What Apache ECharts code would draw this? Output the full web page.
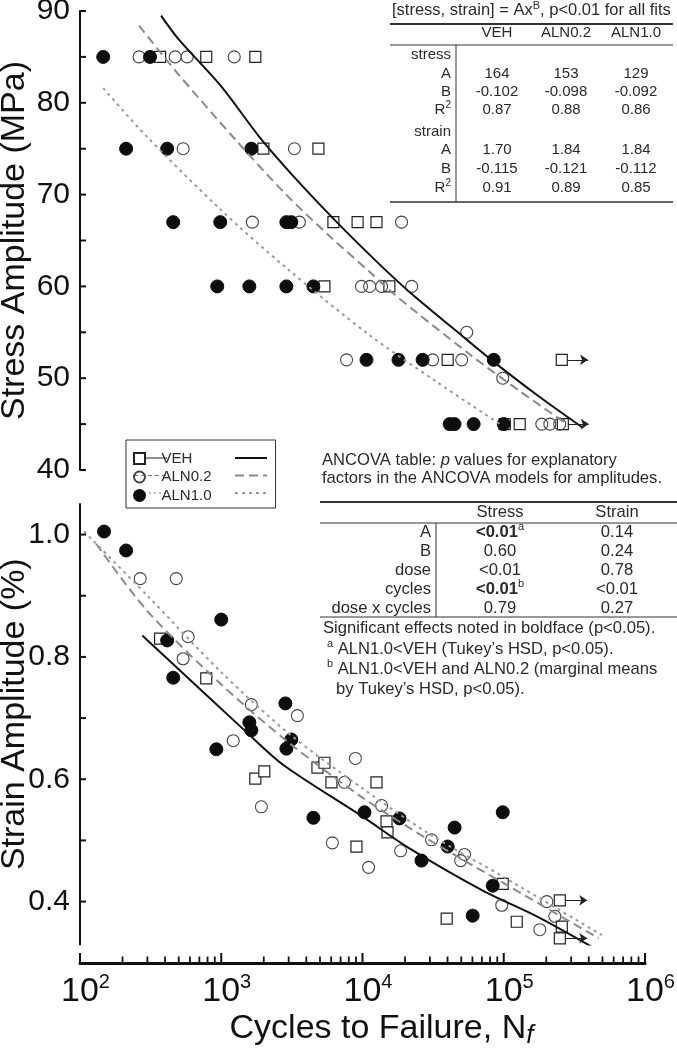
<!DOCTYPE html>
<html><head><meta charset="utf-8">
<script src="https://cdn.jsdelivr.net/npm/echarts@6/dist/echarts.min.js"></script>
<style>html,body{margin:0;padding:0;background:#fff;} #c{width:677px;height:1050px;}</style>
</head><body><div id="c"></div>
<script>
// ---------------- data ----------------
const groups = ['VEH', 'ALN0.2', 'ALN1.0'];

// Stress panel: [cycles to failure, stress amplitude MPa]
const stressVEH = [[369,85],[783,85],[1742,85],[1987,75],[4875,75],[6223,67],[9230,67],[12560,67],[5375,60],[15500,60],[40070,52],[257500,52],[101600,45],[129700,45],[262000,45]];
const stressALN02 = [[262,85],[472,85],[574,85],[1236,85],[537,75],[3296,75],[1660,67],[3573,67],[18900,67],[9840,60],[11240,60],[13650,60],[22300,60],[54700,55],[7710,52],[31370,52],[50370,52],[98400,50],[186000,45],[212000,45],[249000,45]];
const stressALN10 = [[146,85],[313,85],[212,75],[414,75],[1633,75],[457,67],[984,67],[2891,67],[3133,67],[937,60],[1581,60],[2891,60],[4490,60],[10670,52],[17980,52],[26640,52],[84930,52],[41400,45],[44800,45],[61200,45],[100000,45]];
// run-outs (arrow start, arrow end, level)
const stressRunouts = [[282000,395000,52],[287000,400000,45]];

// Stress fit curves
const fitStressVEH = [[375,89.5],[500,86.9],[1000,81.8],[1860,76.3],[3570,71.3],[6870,66.7],[13200,62.4],[21500,59.4],[54700,54.2],[86300,51.7],[171000,48.2],[363000,44.6]];
const fitStressALN02 = [[262,88.4],[479,83.4],[1275,75.9],[2880,70.0],[6120,65.2],[11200,61.6],[16300,59.3],[57400,52.6],[129800,48.6],[280000,45.0]];
const fitStressALN10 = [[146,81.6],[294,76.4],[968,68.5],[2891,62.0],[11200,54.7],[33500,49.6],[98400,44.8]];

// Strain panel: [cycles to failure, strain amplitude %]
const strainVEH = [[369,0.830],[783,0.765],[1742,0.601],[2018,0.613],[4798,0.619],[5375,0.627],[6025,0.595],[12560,0.595],[14790,0.531],[15030,0.513],[9060,0.490],[39450,0.372],[98400,0.429],[123600,0.367],[249500,0.402],[257600,0.359],[249500,0.340]];
const strainALN02 = [[267,0.928],[480,0.928],[583,0.833],[537,0.797],[1633,0.722],[3460,0.704],[1216,0.663],[1923,0.555],[8910,0.634],[7450,0.595],[6120,0.496],[13650,0.557],[11050,0.456],[30830,0.501],[18620,0.483],[52800,0.477],[49550,0.467],[96800,0.394],[201800,0.400],[180000,0.354],[230000,0.376]];
const strainALN10 = [[148,1.005],[212,0.974],[414,0.827],[457,0.766],[1000,0.861],[1581,0.693],[1634,0.680],[923,0.649],[2845,0.724],[3133,0.665],[2891,0.650],[4490,0.537],[10330,0.546],[18280,0.536],[26180,0.467],[40090,0.490],[44890,0.521],[98400,0.546],[83600,0.426],[60260,0.377]];
const strainRunouts = [[272000,390000,0.402],[272000,390000,0.340]];

const fitStrainVEH = [[276,0.835],[1541,0.675],[2800,0.622],[9840,0.540],[21500,0.487],[71000,0.418],[174000,0.375],[428000,0.325]];
const fitStrainALN02 = [[130,0.985],[300,0.875],[1000,0.755],[3000,0.660],[10000,0.570],[30000,0.500],[100000,0.430],[470000,0.340]];
const fitStrainALN10 = [[107,1.005],[300,0.900],[1000,0.775],[3000,0.675],[10000,0.585],[30000,0.510],[100000,0.440],[496000,0.345]];

// axis ticks / labels
const stressTickValues = [40,45,50,55,60,65,70,75,80,85,90];
const stressLabelValues = [40,50,60,70,80,90];
const strainTickValues = [0.4,0.5,0.6,0.7,0.8,0.9,1.0];
const strainLabelValues = [0.4,0.6,0.8,1.0];
const xMajorTicks = [100,1000,10000,100000,1000000];
const xTickExponents = ['2','3','4','5','6'];
const xMinorTicks = [200,300,400,500,600,700,800,900,2000,3000,4000,5000,6000,7000,8000,9000,20000,30000,40000,50000,60000,70000,80000,90000,200000,300000,400000,500000,600000,700000,800000,900000];

// tables
const fitTableTitle = '[stress, strain] = Ax{s|B}, p<0.01 for all fits';
const fitRowLabels = ['stress','A','B','R{s|2}','strain','A','B','R{s|2}'];
const fitRows = [
  null,
  ['164','153','129'],
  ['-0.102','-0.098','-0.092'],
  ['0.87','0.88','0.86'],
  null,
  ['1.70','1.84','1.84'],
  ['-0.115','-0.121','-0.112'],
  ['0.91','0.89','0.85']
];
const ancovaTitle = ['ANCOVA table: {i|p} values for explanatory', 'factors in the ANCOVA models for amplitudes.'];
const ancovaHeader = ['Stress','Strain'];
const ancovaFactors = ['A','B','dose','cycles','dose x cycles'];
const ancovaStress = ['{b|<0.01}{s|a}','0.60','<0.01','{b|<0.01}{s|b}','0.79'];
const ancovaStrain = ['0.14','0.24','0.78','<0.01','0.27'];
const ancovaNotes = ['Significant effects noted in boldface (p<0.05).', '{s|a} ALN1.0<VEH (Tukey\u2019s HSD, p<0.05).', '{s|b} ALN1.0<VEH and ALN0.2 (marginal means', 'by Tukey\u2019s HSD, p<0.05).'];

// ---------------- chart ----------------
const FONT = "'Liberation Sans', Arial, Helvetica, sans-serif";
const INK = '#111';
const TXT = '#2a2a2a';

function txt(x, y, text, o) {
  const fs = (o && o.fontSize) || 15;
  const lh = (o && o.lineHeight) || fs + 4;
  return { type: 'text', x: x, y: y, silent: true, z: 10,
    style: Object.assign({ text: text, fontFamily: FONT, fontSize: fs, fill: TXT, align: 'left', verticalAlign: 'middle', lineHeight: lh,
      rich: { s: { fontSize: Math.round(fs * 0.66), verticalAlign: 'top', lineHeight: Math.round(fs * 0.66), fill: TXT, fontFamily: FONT },
              b: { fontSize: fs, fontWeight: 'bold', fill: TXT, fontFamily: FONT, lineHeight: lh },
              i: { fontSize: fs, fontStyle: 'italic', fill: TXT, fontFamily: FONT, lineHeight: lh } } }, o || {}) };
}
function ln(x1, y1, x2, y2, w, o) {
  return { type: 'line', silent: true, z: 10, shape: { x1: x1, y1: y1, x2: x2, y2: y2 },
    style: Object.assign({ stroke: '#333', lineWidth: w }, o || {}) };
}

const graphics = [];
// ---- fit table ----
graphics.push(txt(392, 10, fitTableTitle, { fontSize: 16.5, lineHeight: 20 }));
graphics.push(ln(390, 24, 673, 24, 2));
const colX = [497, 566, 636];
groups.forEach((g, i) => graphics.push(txt(colX[i], 33, g, { align: 'center' })));
graphics.push(ln(390, 45, 673, 45, 1));
graphics.push(ln(456, 45, 456, 202, 1));
const fitRowY = [55, 74, 92, 110, 132, 150, 169, 188];
fitRowLabels.forEach((l, r) => {
  graphics.push(txt(451, fitRowY[r], l, { align: 'right' }));
  if (fitRows[r]) fitRows[r].forEach((v, i) => graphics.push(txt(colX[i], fitRowY[r], v, { align: 'center' })));
});
graphics.push(ln(390, 202, 673, 202, 1.5));

// ---- ANCOVA table ----
const AF = 16.6;
graphics.push(txt(322, 460, ancovaTitle[0], { fontSize: AF }));
graphics.push(txt(322, 478, ancovaTitle[1], { fontSize: AF }));
graphics.push(ln(320, 502, 677, 502, 2));
const acX = [500, 617];
ancovaHeader.forEach((h, i) => graphics.push(txt(acX[i], 512, h, { align: 'center', fontSize: AF })));
graphics.push(ln(320, 523, 677, 523, 1));
graphics.push(ln(436, 523, 436, 617, 1));
const acY = [532, 551, 570, 589, 608];
ancovaFactors.forEach((f, r) => {
  graphics.push(txt(431, acY[r], f, { align: 'right', fontSize: AF }));
  graphics.push(txt(acX[0], acY[r], ancovaStress[r], { align: 'center', fontSize: AF }));
  graphics.push(txt(acX[1], acY[r], ancovaStrain[r], { align: 'center', fontSize: AF }));
});
graphics.push(ln(320, 617, 677, 617, 1));
graphics.push(txt(323, 628, ancovaNotes[0], { fontSize: AF }));
graphics.push(txt(327, 649, ancovaNotes[1], { fontSize: AF }));
graphics.push(txt(327, 669, ancovaNotes[2], { fontSize: AF }));
graphics.push(txt(336, 689, ancovaNotes[3], { fontSize: AF }));

// ---- legend line samples ----
const legRowY = [458, 475.5, 493];
const legLine = [
  { stroke: INK, lineWidth: 2 },
  { stroke: '#888', lineWidth: 2, lineDash: [9, 5] },
  { stroke: '#999', lineWidth: 2, lineDash: [3, 4] }
];
const legThrough = [
  { stroke: '#222', lineWidth: 1.2 },
  { stroke: '#777', lineWidth: 1.2, lineDash: [4, 3] },
  { stroke: '#777', lineWidth: 1.2, lineDash: [2, 3] }
];
legRowY.forEach((y, i) => {
  const a = ln(134, y, 167, y, 1, legThrough[i]); a.z = 1; graphics.push(a);
  graphics.push(ln(235, y, 267, y, 2, legLine[i]));
});

const sqStyle = { color: '#fff', borderColor: '#222', borderWidth: 1.2, opacity: 1 };
const ocStyle = { color: 'rgba(255,255,255,0)', borderColor: '#444', borderWidth: 1.1, opacity: 1 };
const fcStyle = { color: '#0d0d0d', borderColor: '#0d0d0d', borderWidth: 1, opacity: 1 };

function scatter(name, data, xi, yi, sym, size, style, extra) {
  return Object.assign({ name: name, type: 'scatter', xAxisIndex: xi, yAxisIndex: yi, data: data,
    symbol: sym, symbolSize: size, itemStyle: style, z: 2, silent: true, animation: false }, extra || {});
}
function fit(name, data, xi, yi, style) {
  return { name: name, type: 'line', xAxisIndex: xi, yAxisIndex: yi, data: data, smooth: 0.3,
    showSymbol: false, symbol: 'none', lineStyle: style, z: 3, silent: true, animation: false };
}
function arrows(list) {
  return { silent: true, symbol: ['none', 'arrow'], symbolSize: 8, animation: false,
    lineStyle: { color: '#222', width: 1, type: 'solid', opacity: 1 }, itemStyle: { color: '#222' }, label: { show: false },
    emphasis: { disabled: true },
    data: list.map(r => [{ coord: [r[0], r[2]] }, { coord: [r[1], r[2]] }]) };
}
// axis tick marks, placed through the axes' own scales as thin rect symbols
function ticks(name, xi, yi, data, w, h, ox, oy) {
  return { name: name, type: 'scatter', xAxisIndex: xi, yAxisIndex: yi, data: data, silent: true, clip: false, z: 6,
    animation: false, symbol: 'rect', symbolSize: [w, h], symbolOffset: [ox, oy],
    itemStyle: { color: INK, opacity: 1, borderWidth: 0 }, emphasis: { disabled: true } };
}
const fitVEHStyle = { color: INK, width: 2, type: 'solid' };
const fitA02Style = { color: '#8a8a8a', width: 2, type: [9, 5] };
const fitA10Style = { color: '#9a9a9a', width: 2, type: [3, 4] };

const xLabelRich = { b: { fontSize: 34, fontFamily: FONT, color: INK, lineHeight: 40, padding: [0, 0, 0, 11] },
                     s: { fontSize: 20, fontFamily: FONT, color: INK, lineHeight: 20, verticalAlign: 'top' } };

const option = {
  animation: false,
  backgroundColor: '#fff',
  textStyle: { fontFamily: FONT },
  grid: [
    { left: 80, top: 11, width: 565, height: 459, outerBoundsMode: 'none', containLabel: false },
    { left: 80, top: 504, width: 565, height: 440.4, outerBoundsMode: 'none', containLabel: false },
    // strip that carries the shared horizontal axis (bottom edge at y = 963)
    { left: 80, top: 953, width: 565, height: 10, outerBoundsMode: 'none', containLabel: false }
  ],
  xAxis: [
    { gridIndex: 0, type: 'log', logBase: 10, min: 100, max: 1000000, show: false },
    { gridIndex: 1, type: 'log', logBase: 10, min: 100, max: 1000000, show: false },
    { gridIndex: 2, type: 'log', logBase: 10, min: 100, max: 1000000, position: 'bottom',
      axisLine: { show: true, onZero: false, lineStyle: { color: INK, width: 3 } },
      axisTick: { show: false },
      axisLabel: { show: true, margin: 9,
        formatter: v => { const i = xMajorTicks.findIndex(t => Math.abs(t - v) / t < 1e-6); return i < 0 ? '' : '{b|10}{s|' + xTickExponents[i] + '}'; },
        rich: xLabelRich },
      splitLine: { show: false }, minorTick: { show: false },
      name: 'Cycles to Failure, N{f|f}', nameLocation: 'middle', nameGap: 46, nameMoveOverlap: false,
      nameTextStyle: { fontSize: 34, fontFamily: FONT, color: INK, lineHeight: 40, padding: [0, 0, 0, 38],
        rich: { f: { fontSize: 26, fontStyle: 'italic', fontFamily: FONT, color: INK, lineHeight: 16, verticalAlign: 'bottom' } } } }
  ],
  yAxis: [
    { gridIndex: 0, type: 'value', min: 40, max: 90, interval: 5,
      axisLine: { show: true, lineStyle: { color: INK, width: 2 } },
      axisTick: { show: false },
      axisLabel: { show: true, margin: 10, fontSize: 30, fontFamily: FONT, color: INK, customValues: stressLabelValues,
        formatter: v => stressLabelValues.indexOf(v) >= 0 ? String(v) : '' },
      splitLine: { show: false },
      name: 'Stress Amplitude (MPa)', nameLocation: 'middle', nameGap: 48, nameMoveOverlap: false,
      nameTextStyle: { fontSize: 34, fontFamily: FONT, color: INK } },
    { gridIndex: 1, type: 'value', min: 0.33, max: 1.05,
      axisLine: { show: true, lineStyle: { color: INK, width: 2 } },
      axisTick: { show: false },
      axisLabel: { show: true, margin: 10, fontSize: 30, fontFamily: FONT, color: INK, customValues: strainLabelValues,
        formatter: v => v.toFixed(1) },
      splitLine: { show: false },
      name: 'Strain Amplitude (%)', nameLocation: 'middle', nameGap: 48, nameMoveOverlap: false,
      nameTextStyle: { fontSize: 34, fontFamily: FONT, color: INK, padding: [0, 0, 0, 20] } },
    { gridIndex: 2, type: 'value', min: 0, max: 1, show: false }
  ],
  legend: {
    orient: 'vertical', left: 126, top: 440, padding: [11, 64, 5, 7],
    itemWidth: 34, itemHeight: 11, itemGap: 3.5,
    borderColor: '#333', borderWidth: 1, backgroundColor: 'transparent',
    textStyle: { fontSize: 15, fontFamily: FONT, color: TXT, lineHeight: 14 },
    selectedMode: false,
    data: [
      { name: 'VEH', icon: 'path://M0,0h10v10h-10z' },
      { name: 'ALN0.2', icon: 'circle' },
      { name: 'ALN1.0', icon: 'circle' }
    ]
  },
  graphic: graphics,
  series: [
    fit('VEH fit stress', fitStressVEH, 0, 0, fitVEHStyle),
    fit('ALN0.2 fit stress', fitStressALN02, 0, 0, fitA02Style),
    fit('ALN1.0 fit stress', fitStressALN10, 0, 0, fitA10Style),
    scatter('VEH', stressVEH, 0, 0, 'rect', 11, sqStyle, { markLine: arrows(stressRunouts) }),
    scatter('ALN0.2', stressALN02, 0, 0, 'circle', 12, ocStyle),
    scatter('ALN1.0', stressALN10, 0, 0, 'circle', 13, fcStyle),
    fit('VEH fit strain', fitStrainVEH, 1, 1, fitVEHStyle),
    fit('ALN0.2 fit strain', fitStrainALN02, 1, 1, fitA02Style),
    fit('ALN1.0 fit strain', fitStrainALN10, 1, 1, fitA10Style),
    scatter('VEH', strainVEH, 1, 1, 'rect', 11, sqStyle, { markLine: arrows(strainRunouts) }),
    scatter('ALN0.2', strainALN02, 1, 1, 'circle', 12, ocStyle),
    scatter('ALN1.0', strainALN10, 1, 1, 'circle', 13, fcStyle),
    // axis ticks
    ticks('x major ticks', 2, 2, xMajorTicks.map(v => [v, 0]), 2, 10, 0, -5),
    ticks('x minor ticks', 2, 2, xMinorTicks.map(v => [v, 0]), 1.8, 6.5, 0, -3.25),
    ticks('stress ticks', 0, 0, stressTickValues.map(v => [100, v]), 6, 2, 3, 0),
    ticks('strain ticks', 1, 1, strainTickValues.map(v => [100, v]), 6, 2, 3, 0)
  ]
};

const chart = echarts.init(document.getElementById('c'), null, { renderer: 'canvas', width: 677, height: 1050 });
chart.setOption(option);
</script></body></html>
